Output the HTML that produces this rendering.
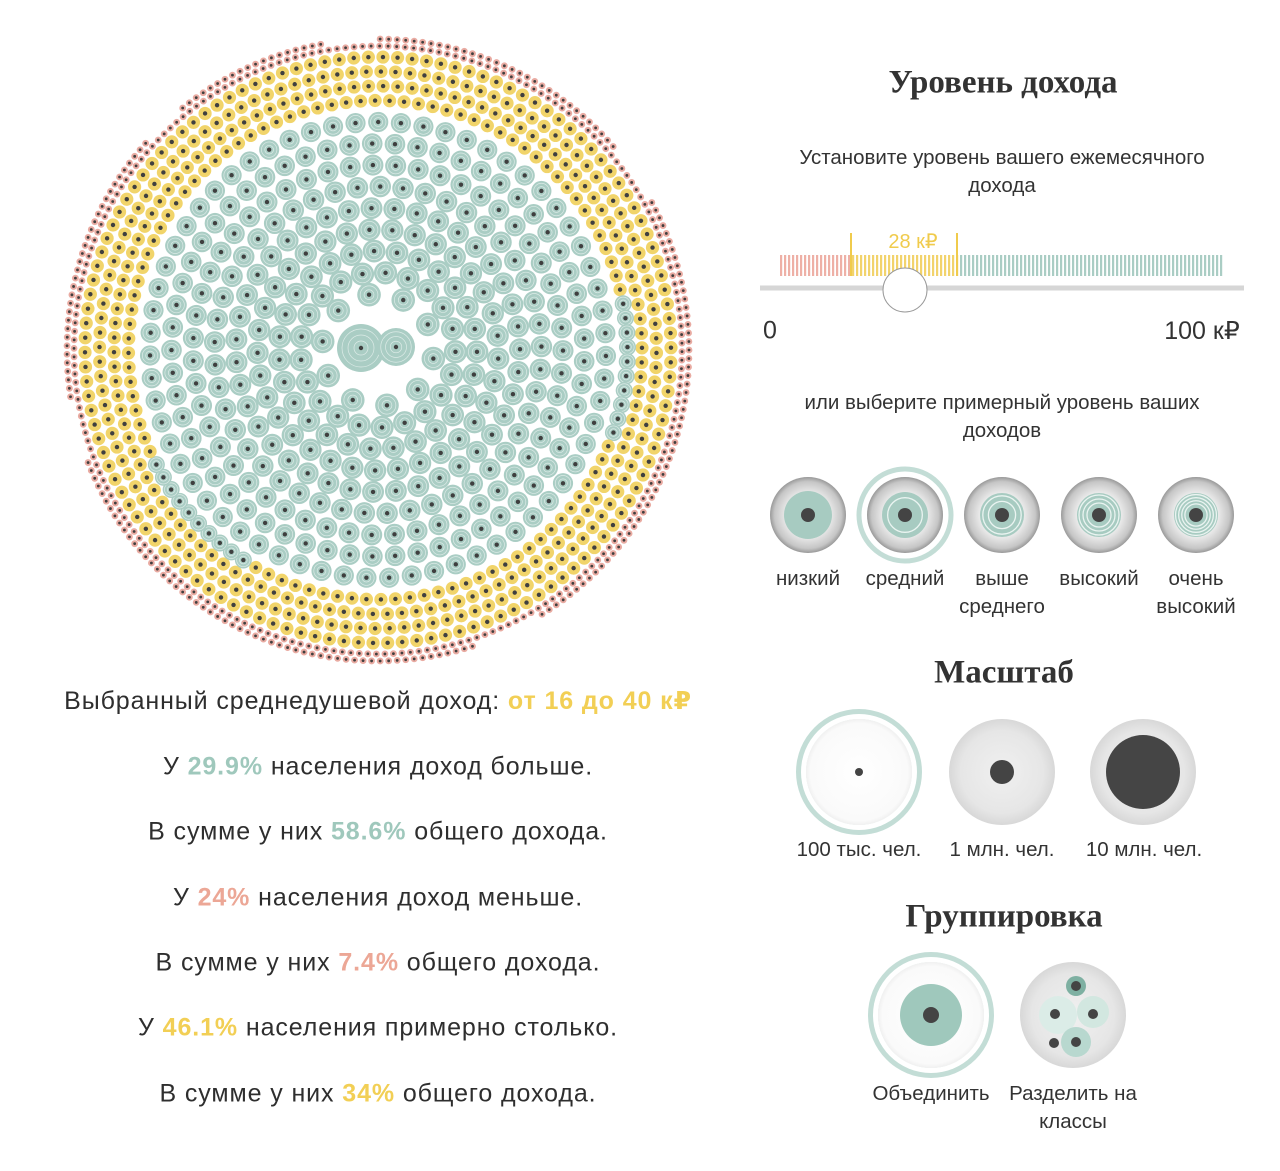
<!DOCTYPE html>
<html><head><meta charset="utf-8">
<style>
body{margin:0;background:#fff;width:1280px;height:1171px;overflow:hidden;position:relative;font-family:"Liberation Sans","DejaVu Sans",sans-serif;color:#333}
.t{position:absolute;white-space:nowrap;transform:translate(-50%,-50%);text-align:center}
.h{font-family:"Liberation Serif",serif;font-weight:bold;font-size:33px;color:#333}
.s{font-size:20.5px;line-height:28px}
.l{font-size:25px;letter-spacing:0.9px;color:#2e2e2e}
.g{color:#9fc8bc;font-weight:bold}.y{color:#f2cf55;font-weight:bold}.r{color:#eca796;font-weight:bold}
.b{position:absolute;border-radius:50%;transform:translate(-50%,-50%);background:radial-gradient(circle,#f0f0f0 0,#e6e6e6 55%,#c8c8c8 88%,#9a9a9a 100%)}
.w{background:radial-gradient(circle,#fff 0,#fafafa 65%,#d0d0d0 90%,#a0a0a0 100%)}
.sel{box-shadow:0 0 0 5px #fff,0 0 0 10px #c3ddd6}
</style></head><body>
<svg id="big" width="760" height="680" style="position:absolute;left:0;top:0"></svg>

<div class="t h" style="left:1003px;top:83px">Уровень дохода</div>
<div class="t s" style="left:1002px;top:172px">Установите уровень вашего ежемесячного<br>дохода</div>
<svg width="520" height="100" style="position:absolute;left:750px;top:225px" id="sl">
</svg>
<div class="t" style="left:770px;top:331px;font-size:25px">0</div>
<div class="t" style="left:1202px;top:331px;font-size:25px">100 к₽</div>
<div class="t s" style="left:1002px;top:417px">или выберите примерный уровень ваших<br>доходов</div>

<svg width="520" height="110" style="position:absolute;left:750px;top:460px">
<defs><radialGradient id="gb"><stop offset="0" stop-color="#f2f2f2"/><stop offset=".6" stop-color="#e8e8e8"/><stop offset=".88" stop-color="#c6c6c6"/><stop offset="1" stop-color="#999"/></radialGradient></defs>
<circle cx="155" cy="55" r="46" fill="none" stroke="#c3ddd6" stroke-width="5"/>
<g id="lv"></g>
</svg>
<div class="t s" style="left:808px;top:579px">низкий</div>
<div class="t s" style="left:905px;top:579px">средний</div>
<div class="t s" style="left:1002px;top:593px">выше<br>среднего</div>
<div class="t s" style="left:1099px;top:579px">высокий</div>
<div class="t s" style="left:1196px;top:593px">очень<br>высокий</div>

<div class="t h" style="left:1004px;top:673px">Масштаб</div>
<div class="b w sel" style="left:859px;top:772px;width:106px;height:106px"></div>
<div style="position:absolute;left:855px;top:768px;width:8px;height:8px;border-radius:50%;background:#444"></div>
<div class="b" style="left:1002px;top:772px;width:106px;height:106px"></div>
<div style="position:absolute;left:990px;top:760px;width:24px;height:24px;border-radius:50%;background:#444"></div>
<div class="b" style="left:1143px;top:772px;width:106px;height:106px"></div>
<div style="position:absolute;left:1106px;top:735px;width:74px;height:74px;border-radius:50%;background:#454545"></div>
<div class="t s" style="left:859px;top:850px">100 тыс. чел.</div>
<div class="t s" style="left:1002px;top:850px">1 млн. чел.</div>
<div class="t s" style="left:1144px;top:850px">10 млн. чел.</div>

<div class="t h" style="left:1004px;top:917px">Группировка</div>
<div class="b w sel" style="left:931px;top:1015px;width:106px;height:106px"></div>
<div style="position:absolute;left:900px;top:984px;width:62px;height:62px;border-radius:50%;background:#9fc8bc"></div>
<div style="position:absolute;left:923px;top:1007px;width:16px;height:16px;border-radius:50%;background:#444"></div>
<div class="b" style="left:1073px;top:1015px;width:106px;height:106px"></div>
<svg width="110" height="110" style="position:absolute;left:1018px;top:960px">
<circle cx="40" cy="55" r="19" fill="#dbece7"/><circle cx="75" cy="52" r="16" fill="#d2e7e0"/>
<circle cx="58" cy="26" r="10" fill="#7eb0a2"/><circle cx="58" cy="82" r="15" fill="#b8d8cf"/>
<circle cx="58" cy="26" r="5" fill="#444"/><circle cx="37" cy="54" r="5" fill="#444"/><circle cx="75" cy="54" r="5" fill="#444"/>
<circle cx="58" cy="82" r="5" fill="#444"/><circle cx="36" cy="83" r="5" fill="#444"/>
</svg>
<div class="t s" style="left:931px;top:1094px">Объединить</div>
<div class="t s" style="left:1073px;top:1108px">Разделить на<br>классы</div>

<div class="t l" style="left:378px;top:701px">Выбранный среднедушевой доход: <span class="y">от 16 до 40 к₽</span></div>
<div class="t l" style="left:378px;top:767px">У <span class="g">29.9%</span> населения доход больше.</div>
<div class="t l" style="left:378px;top:832px">В сумме у них <span class="g">58.6%</span> общего дохода.</div>
<div class="t l" style="left:378px;top:898px">У <span class="r">24%</span> населения доход меньше.</div>
<div class="t l" style="left:378px;top:963px">В сумме у них <span class="r">7.4%</span> общего дохода.</div>
<div class="t l" style="left:378px;top:1028px">У <span class="y">46.1%</span> населения примерно столько.</div>
<div class="t l" style="left:378px;top:1094px">В сумме у них <span class="y">34%</span> общего дохода.</div>

<script>
var NS="http://www.w3.org/2000/svg";
function c(p,x,y,r,f,extra){var e=document.createElementNS(NS,"circle");e.setAttribute("cx",x);e.setAttribute("cy",y);e.setAttribute("r",r);if(f)e.setAttribute("fill",f);if(extra)for(var k in extra)e.setAttribute(k,extra[k]);p.appendChild(e);return e;}
var big=document.getElementById("big"),CX=378,CY=350;
var G="#aacdc4",Y="#f1d46a",R="#e9aba2";
function dot(x,y,s,col,rings){c(big,x,y,s,col);for(var i=1;i<=rings;i++){c(big,x,y,s*i/(rings+1)+1,"none",{stroke:"#dcebe7","stroke-width":"0.7"});}c(big,x,y,Math.max(1.4,s<6?1.4:2.2),"#3f3f3f");}
dot(CX-17,CY-2,24,G,3);dot(CX+18,CY-3,19,G,3);
var rings=[];
[[311,3.4,R],[304,3.4,R]].forEach(function(a){rings.push(a)});
for(var R0=293;R0>=240;R0-=14.5)rings.push([R0,6.6,Y]);
for(var R0=228;R0>=50;R0-=21.5)rings.push([R0,10.1+(228-R0)*0.01,G]);
rings.forEach(function(a,idx){var Rr=a[0],s=a[1],col=a[2];var pitch=col==R?8.5:(col==Y?14.5:(Rr<60?34:22.5));var n=Math.floor(2*Math.PI*Rr/pitch);var off=idx*0.37;
for(var i=0;i<n;i++){var t=off+i*2*Math.PI/n;var rr=Rr;
 var c2=col;
 if(col==Y&&Rr<255){var wob=240+14*Math.sin(3*t+1)+8*Math.cos(5*t);if(Rr>wob)c2=Y;else c2=G;}
 if(col==R&&Rr>308&&Math.sin(7*t)+Math.cos(11*t)>1.2)continue;
 dot(CX+rr*Math.cos(t),CY+rr*Math.sin(t),c2==G&&col==Y?8.5:s,c2,c2==G?2:0);}
});
var sl=document.getElementById("sl");
for(var x=30;x<=472;x+=4){var col=x<101?"#eeb0a6":(x<208?"#f2d36c":"#aacdc4");var r=document.createElementNS(NS,"rect");r.setAttribute("x",x);r.setAttribute("y",30);r.setAttribute("width",2.2);r.setAttribute("height",21);r.setAttribute("fill",col);sl.appendChild(r);}
function ln(x1,y1,x2,y2,col,w){var l=document.createElementNS(NS,"line");l.setAttribute("x1",x1);l.setAttribute("y1",y1);l.setAttribute("x2",x2);l.setAttribute("y2",y2);l.setAttribute("stroke",col);l.setAttribute("stroke-width",w);sl.appendChild(l);}
ln(101,8,101,51,"#f0cb4c",2);ln(207,8,207,51,"#f0cb4c",2);
ln(10,63,494,63,"#d6d6d6",5);
c(sl,155,65,22,"#fff",{stroke:"#999","stroke-width":"1"});
var tx=document.createElementNS(NS,"text");tx.setAttribute("x",163);tx.setAttribute("y",23);tx.setAttribute("text-anchor","middle");tx.setAttribute("font-size","20");tx.setAttribute("fill","#f0cb4c");tx.setAttribute("font-family","Liberation Sans, sans-serif");tx.textContent="28 к₽";sl.appendChild(tx);
var lv=document.getElementById("lv");
[58,155,252,349,446].forEach(function(x,i){c(lv,x,55,38,"url(#gb)");c(lv,x,55,i==0?24:(i==1?23:22),"#a7cbc1");for(var k=1;k<=i;k++)c(lv,x,55,8+k*(14/(i+0.5)),"none",{stroke:"#eaf4f1","stroke-width":"1.3"});c(lv,x,55,7,"#444");});
</script>
</body></html>
